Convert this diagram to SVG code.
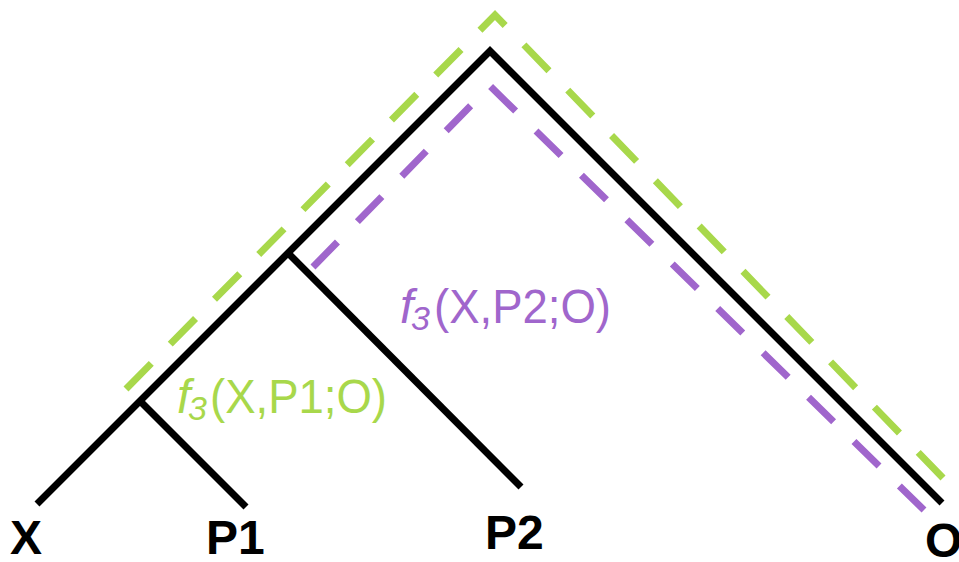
<svg xmlns="http://www.w3.org/2000/svg" width="959" height="562" viewBox="0 0 959 562">
  <style>
    .tree { fill: none; stroke: #000; stroke-width: 7; stroke-linecap: butt; stroke-linejoin: miter; stroke-miterlimit: 10; }
    .green { fill: none; stroke: #a8d84b; stroke-width: 7; stroke-dasharray: 36 27; stroke-linejoin: miter; }
    .purple { fill: none; stroke: #a066cc; stroke-width: 7; stroke-dasharray: 35 28.5; stroke-linejoin: miter; }
    .leaf { font-family: "Liberation Sans", Arial, Helvetica, sans-serif; font-weight: bold; font-size: 48px; fill: #000; }
    .lab { font-family: "Liberation Sans", Arial, Helvetica, sans-serif; font-size: 48px; }
    .lab-g { fill: #a8d84b; }
    .lab-p { fill: #a066cc; }
  </style>
  <rect width="959" height="562" fill="#fff"/>

  <g id="paths">
    <path id="path-green" class="green" d="M126,389 L495,15 L943,478"/>
    <path id="path-purple" class="purple" d="M313,267 L490,86 L924,510"/>
  </g>

  <g id="connectors">
    <path class="tree" d="M37,504 L490,51 L942,503"/>
    <path class="tree" d="M288,253 L521,487"/>
    <path class="tree" d="M140,401 L246,507"/>
  </g>

  <g id="node-X"><text class="leaf" x="10" y="554">X</text></g>
  <g id="node-P1"><text class="leaf" x="206" y="554">P1</text></g>
  <g id="node-P2"><text class="leaf" x="485" y="549">P2</text></g>
  <g id="node-O"><text class="leaf" x="925" y="557">O</text></g>

  <g id="label-green">
    <text class="lab lab-g" y="413"><tspan x="177" font-style="italic">f</tspan><tspan x="188" y="420" font-style="italic" font-size="34">3</tspan><tspan x="210" y="413" textLength="177" lengthAdjust="spacingAndGlyphs">(X,P1;O)</tspan></text>
  </g>
  <g id="label-purple">
    <text class="lab lab-p" y="323"><tspan x="400" font-style="italic">f</tspan><tspan x="411" y="330" font-style="italic" font-size="34">3</tspan><tspan x="434" y="323" textLength="177" lengthAdjust="spacingAndGlyphs">(X,P2;O)</tspan></text>
  </g>
</svg>
